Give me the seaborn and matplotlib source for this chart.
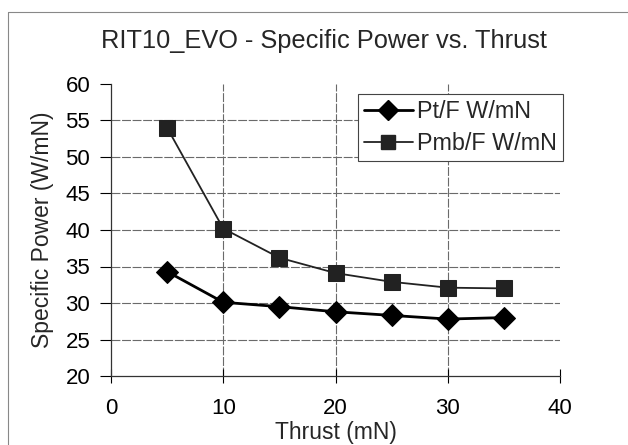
import matplotlib
matplotlib.use("Agg")
import matplotlib.pyplot as plt
import seaborn as sns
import pandas as pd
from matplotlib.lines import Line2D

thrust = [5, 10, 15, 20, 25, 30, 35]
pt_f = [34.3, 30.1, 29.5, 28.8, 28.3, 27.8, 28.0]
pmb_f = [54.0, 40.2, 36.2, 34.1, 32.9, 32.1, 32.0]
series_names = ["Pt/F W/mN", "Pmb/F W/mN"]
xticks = [0, 10, 20, 30, 40]
yticks = [20, 25, 30, 35, 40, 45, 50, 55, 60]

title = "RIT10_EVO - Specific Power vs. Thrust"
xlabel = "Thrust (mN)"
ylabel = "Specific Power (W/mN)"

sns.set_style("white")
plt.rcParams["font.family"] = ["Liberation Sans", "DejaVu Sans"]

df = pd.DataFrame({
    "Thrust": thrust * 2,
    "Value": pt_f + pmb_f,
    "Series": [series_names[0]] * len(thrust) + [series_names[1]] * len(thrust),
})

fig = plt.figure(figsize=(6.28, 4.45), dpi=100)
ax = fig.add_axes([111 / 628, 1 - 376 / 445, 449 / 628, 292 / 445])

sns.lineplot(data=df, x="Thrust", y="Value", hue="Series", style="Series",
             markers={series_names[0]: "D", series_names[1]: "s"},
             dashes=False, palette={series_names[0]: "black", series_names[1]: "#222222"},
             ax=ax, legend=False, markersize=10)

lines = ax.get_lines()
lines[0].set_linewidth(2.0)
lines[0].set_markersize(11)
lines[1].set_linewidth(1.3)
lines[1].set_markersize(11)
for ln in lines[:2]:
    ln.set_markeredgecolor(ln.get_color())

ax.set_xlim(0, 40)
ax.set_ylim(20, 60)
ax.set_xticks(xticks)
ax.set_yticks(yticks)
ax.tick_params(axis="both", labelsize=16, colors="black")
ax.tick_params(axis="y", direction="out", length=8, width=0.8, pad=7, left=True)
ax.tick_params(axis="x", direction="inout", length=10, width=0.8, pad=11, bottom=True)

for s in ["top", "right"]:
    ax.spines[s].set_visible(False)
for s in ["left", "bottom"]:
    ax.spines[s].set_color("#333333")
    ax.spines[s].set_linewidth(0.9)

ax.grid(True, color="#6a6a6a", linewidth=0.8, linestyle=(0, (8, 1.5)))
for gl, t in zip(ax.get_ygridlines(), yticks):
    if t in (20, 60):
        gl.set_visible(False)
for gl, t in zip(ax.get_xgridlines(), xticks):
    if t in (0, 40):
        gl.set_visible(False)
ax.set_axisbelow(True)

ax.set_xlabel(xlabel, fontsize=16.5, labelpad=1)
ax.set_ylabel(ylabel, fontsize=16.5, labelpad=8)

handles = [
    Line2D([], [], color="black", lw=2.0, marker="D", markersize=10),
    Line2D([], [], color="#222222", lw=1.3, marker="s", markersize=9.5),
]
leg = ax.legend(handles, series_names, loc="upper right",
                bbox_to_anchor=(1.007, 0.966), borderaxespad=0,
                fontsize=16.8, fancybox=False, framealpha=1,
                edgecolor="#444444", handlelength=2.1, handletextpad=0.2,
                labelspacing=0.4, borderpad=0.25)
leg.get_frame().set_linewidth(0.8)

fig.text(324 / 628, 1 - 41 / 445, title, ha="center", va="center", fontsize=18.3)

fig.add_artist(Line2D([8 / 628, 8 / 628], [0, 1 - 12 / 445], transform=fig.transFigure,
                      color="#888888", lw=0.8))
fig.add_artist(Line2D([8 / 628, 1], [1 - 12 / 445, 1 - 12 / 445], transform=fig.transFigure,
                      color="#888888", lw=0.8))

fig.savefig("out.png", dpi=100)
